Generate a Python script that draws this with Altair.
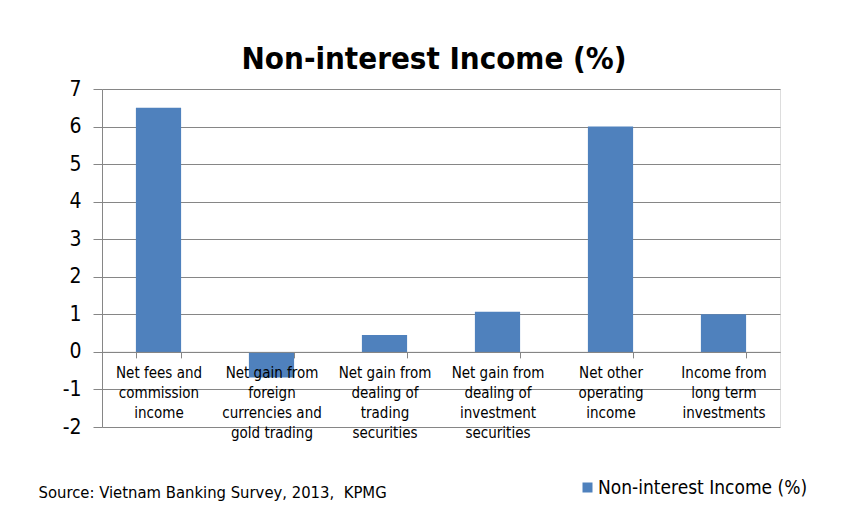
import altair as alt
import pandas as pd

categories = [
    "Net fees and\ncommission\nincome",
    "Net gain from\nforeign\ncurrencies and\ngold trading",
    "Net gain from\ndealing of\ntrading\nsecurities",
    "Net gain from\ndealing of\ninvestment\nsecurities",
    "Net other\noperating\nincome",
    "Income from\nlong term\ninvestments",
]
values = [6.5, -0.68, 0.45, 1.07, 6.0, 1.0]
series_name = "Non-interest Income (%)"
y_ticks = [-2, -1, 0, 1, 2, 3, 4, 5, 6, 7]
title_text = "Non-interest Income (%)"
source_text = "Source: Vietnam Banking Survey, 2013,\u00a0 KPMG"

df = pd.DataFrame({"category": categories, "value": values, "series": series_name})

FONT = "DejaVu Sans Condensed, sans-serif"
W, H = 678, 338
ymin, ymax = -2, 7
zero_offset = -H * (0 - ymin) / (ymax - ymin)

chart = alt.Chart(df).mark_bar(color="#4F81BD").encode(
    x=alt.X(
        "category:N",
        sort=categories,
        scale=alt.Scale(paddingInner=0.6, paddingOuter=0.3),
        axis=alt.Axis(
            title=source_text,
            titleFont=FONT,
            titleFontSize=16.5,
            titleFontWeight="normal",
            titleColor="#000000",
            titleAnchor="start",
            titleAlign="left",
            titleBaseline="alphabetic",
            titleX=-64,
            titleY=146,
            offset=zero_offset,
            tickBand="extent",
            zindex=1,
            labelAngle=0,
            labelExpr="split(datum.label, '\\n')",
            labelFont=FONT,
            labelFontSize=15,
            labelColor="#000000",
            labelLineHeight=20,
            labelBaseline="top",
            labelPadding=8,
            labelLimit=0,
            labelOverlap=False,
            labelBound=False,
            tickSize=6,
            tickColor="#868686",
            domainColor="#868686",
            grid=False,
        ),
    ),
    y=alt.Y(
        "value:Q",
        scale=alt.Scale(domain=[ymin, ymax], nice=False, zero=False),
        axis=alt.Axis(
            title=None,
            values=y_ticks,
            labelExpr="toString(datum.value)",
            labelFont=FONT,
            labelFontSize=21,
            labelColor="#000000",
            labelPadding=12,
            tickSize=9,
            tickColor="#868686",
            domainColor="#868686",
            gridColor="#868686",
        ),
    ),
    fill=alt.Fill(
        "series:N",
        scale=alt.Scale(range=["#4F81BD"]),
        legend=alt.Legend(
            title=None,
            orient="none",
            legendX=476,
            legendY=389,
            symbolType="square",
            symbolSize=100,
            symbolStrokeWidth=0,
            labelFont=FONT,
            labelFontSize=19,
            labelColor="#000000",
            labelLimit=0,
            labelOffset=1,
        ),
    ),
).properties(
    width=W,
    height=H,
    title=alt.TitleParams(
        text=title_text,
        font=FONT,
        fontSize=31,
        fontWeight="bold",
        color="#000000",
        anchor="middle",
        dx=-7,
        offset=2,
    ),
    padding={"left": 102, "top": 89, "right": 71, "bottom": 90},
    autosize=alt.AutoSizeParams(type="none"),
).configure_view(stroke=None).configure(background="white")

chart.save("out.html", embed_options={"renderer": "svg", "actions": False})
